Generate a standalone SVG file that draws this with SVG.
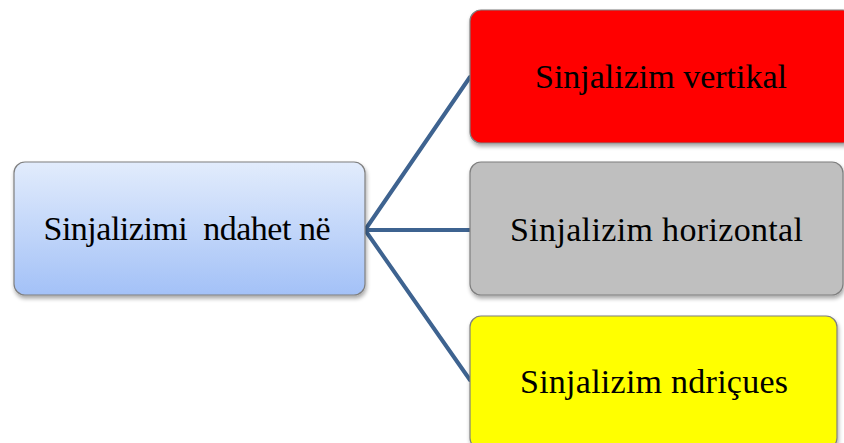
<svg xmlns="http://www.w3.org/2000/svg" width="844" height="443" viewBox="0 0 844 443">
<style>
.box{stroke:#7f7f7f;stroke-width:1.2}
.t{font-family:"Liberation Serif","Times New Roman",serif;font-size:34px;fill:#000;text-anchor:middle}
.c{stroke:#3e6390;stroke-width:4;fill:none;stroke-linecap:round;stroke-linejoin:round}
</style>
<defs>
<linearGradient id="blue" x1="0" y1="0" x2="0" y2="1">
<stop offset="0" stop-color="#e2ecfc"/>
<stop offset="1" stop-color="#a3c1f7"/>
</linearGradient>
<filter id="sh" x="-10%" y="-10%" width="125%" height="130%">
<feGaussianBlur in="SourceAlpha" stdDeviation="2"/>
<feOffset dx="1" dy="3"/>
<feComponentTransfer><feFuncA type="linear" slope="0.35"/></feComponentTransfer>
<feMerge><feMergeNode/><feMergeNode in="SourceGraphic"/></feMerge>
</filter>
</defs>
<rect width="844" height="443" fill="#fff"/>
<g id="connectors">
<path class="c" d="M365,230 L470,77"/>
<path class="c" d="M365,230 L470,230"/>
<path class="c" d="M365,230 L470,380"/>
</g>
<g id="root">
<rect class="box" x="14" y="162" width="351" height="133" rx="11" fill="url(#blue)" filter="url(#sh)"/>
<text class="t" x="187" y="240" xml:space="preserve" textLength="287" lengthAdjust="spacing">Sinjalizimi  ndahet në</text>
</g>
<g id="vertikal">
<rect class="box" x="470" y="10" width="384" height="133" rx="11" fill="#ff0000" filter="url(#sh)"/>
<text class="t" x="661" y="88" textLength="252" lengthAdjust="spacing">Sinjalizim vertikal</text>
</g>
<g id="horizontal">
<rect class="box" x="470" y="162" width="373" height="133" rx="11" fill="#bfbfbf" filter="url(#sh)"/>
<text class="t" x="656.5" y="241" textLength="293" lengthAdjust="spacing">Sinjalizim horizontal</text>
</g>
<g id="ndricues">
<rect class="box" x="470" y="316" width="367" height="133" rx="11" fill="#ffff00" filter="url(#sh)"/>
<text class="t" x="654" y="393" textLength="268" lengthAdjust="spacing">Sinjalizim ndriçues</text>
</g>
</svg>
